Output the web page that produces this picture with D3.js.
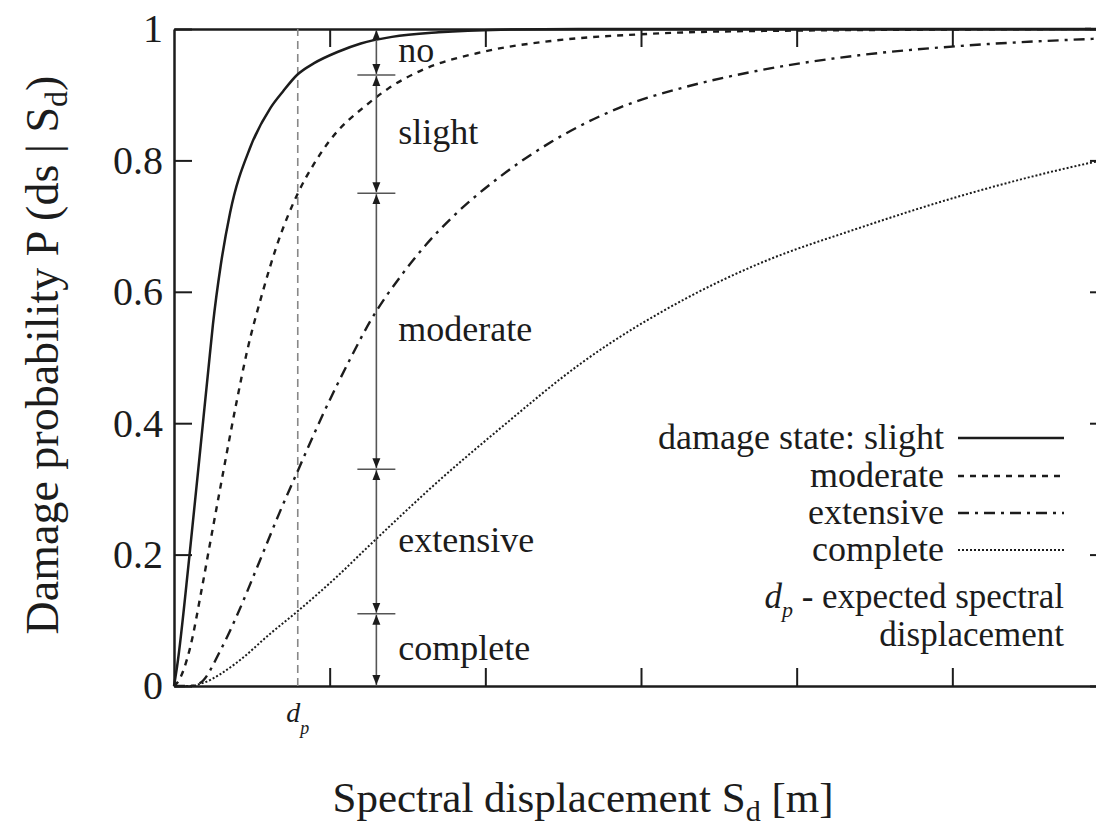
<!DOCTYPE html>
<html>
<head>
<meta charset="utf-8">
<script src="https://cdn.jsdelivr.net/npm/d3@7"></script>
</head>
<body style="margin:0">
<script>
// x in tick units of spectral displacement, y = damage probability
const slight = [[0,0],[0.02,0.03],[0.10,0.20],[0.19,0.41],[0.22,0.48],[0.25,0.55],[0.30,0.64],[0.36,0.72],[0.49,0.82],[0.62,0.88],[0.70,0.905],[0.79,0.93],[0.90,0.948],[1.05,0.965],[1.20,0.978],[1.40,0.988],[1.70,0.995],[2.1,0.999],[2.6,1],[6,1]];
const moderate = [[0,0],[0.03,0.008],[0.10,0.055],[0.18,0.15],[0.23,0.215],[0.30,0.305],[0.40,0.43],[0.47,0.51],[0.57,0.60],[0.66,0.67],[0.80,0.752],[0.90,0.795],[1.0,0.83],[1.24,0.885],[1.38,0.91],[1.58,0.936],[1.98,0.965],[2.43,0.982],[3.0,0.992],[3.75,0.997],[6,1]];
const extensive = [[0,0],[0.10,0],[0.17,0.005],[0.30,0.055],[0.40,0.105],[0.55,0.19],[0.68,0.265],[0.80,0.33],[0.96,0.415],[1.13,0.497],[1.26,0.555],[1.47,0.628],[1.62,0.672],[1.79,0.714],[2.11,0.778],[2.43,0.829],[2.86,0.880],[3.29,0.912],[3.74,0.936],[4.40,0.960],[5.04,0.974],[5.9,0.985],[6,0.986]];
const complete = [[0,0],[0.10,0],[0.19,0.005],[0.40,0.035],[0.62,0.08],[0.80,0.115],[1.04,0.165],[1.26,0.215],[1.47,0.262],[1.62,0.295],[2.11,0.395],[2.62,0.492],[3.29,0.59],[3.76,0.643],[4.40,0.697],[5.04,0.745],[5.9,0.797],[6,0.802]];

const dp = 0.795;             // expected spectral displacement
const arrowX = 1.30;          // where the damage-state bracket is drawn
const dpLevels = [0, 0.11, 0.33, 0.75, 0.93, 1];   // curve values at d_p
const stateNames = ["complete", "extensive", "moderate", "slight", "no"];

const xTicks = [1, 2, 3, 4, 5];
const yTicks = [0, 0.2, 0.4, 0.6, 0.8, 1];
const yTickLabels = ["0", "0.2", "0.4", "0.6", "0.8", "1"];

const legendNames = ["damage state: slight", "moderate", "extensive", "complete"];

const fontName = "Liberation Serif";

const margin = {top: 29, right: -12, bottom: 146, left: 174},
    width = 1096 - margin.left - margin.right,
    height = 832 - margin.top - margin.bottom;

const svg = d3.select("body")
    .append("svg")
    .attr("width", 1096)
    .attr("height", 832)
    .attr("font-family", fontName)
    .style("display", "block");

// every text goes through this so the serif face sits on the element itself
function txt(sel) {
    return sel.append("text")
        .attr("font-family", fontName)
        .attr("fill", "#1c1c1c");
}

const g = svg.append("g")
    .attr("transform", `translate(${margin.left},${margin.top})`);

const xScale = d3.scaleLinear().domain([0, 6]).range([0, width]);
const yScale = d3.scaleLinear().domain([0, 1]).range([height, 0]);

// axes, ticks pointing inward on all four sides
g.append("g")
    .attr("transform", `translate(0, ${height})`)
    .call(d3.axisBottom(xScale).tickValues(xTicks).tickSizeInner(-18).tickSizeOuter(0).tickFormat(""));
g.append("g")
    .call(d3.axisTop(xScale).tickValues(xTicks).tickSizeInner(-18).tickSizeOuter(0).tickFormat(""));
g.append("g")
    .attr("transform", `translate(${width}, 0)`)
    .call(d3.axisRight(yScale).tickValues(yTicks).tickSizeInner(-18).tickSizeOuter(0).tickFormat(""));
const yAxisGroup = g.append("g")
    .call(d3.axisLeft(yScale).tickValues(yTicks).tickSizeInner(-18).tickSizeOuter(0).tickPadding(11)
        .tickFormat((d, i) => yTickLabels[i]));

g.selectAll(".domain").attr("stroke", "#1c1c1c").attr("stroke-width", 2.5);
g.selectAll(".tick line").attr("stroke", "#1c1c1c").attr("stroke-width", 2);
g.selectAll("g").attr("font-family", fontName).attr("font-size", 40);
yAxisGroup.selectAll("text")
    .attr("font-family", fontName)
    .attr("font-size", 40)
    .attr("fill", "#1c1c1c");

// d_p marker line
g.append("line")
    .attr("x1", xScale(dp)).attr("x2", xScale(dp))
    .attr("y1", yScale(0)).attr("y2", yScale(1))
    .attr("stroke", "#888")
    .attr("stroke-width", 1.6)
    .attr("stroke-dasharray", "8,5");

// curves
const line = d3.line()
    .x(d => xScale(d[0]))
    .y(d => yScale(d[1]))
    .curve(d3.curveMonotoneX);

const series = [
    {data: slight, dash: null, w: 2.5},
    {data: moderate, dash: "6,6", w: 2.4},
    {data: extensive, dash: "11,6,3,6", w: 2.4},
    {data: complete, dash: "2,2", w: 2}
];

g.selectAll(".curve")
    .data(series)
    .join("path")
    .attr("class", "curve")
    .attr("fill", "none")
    .attr("stroke", "#1c1c1c")
    .attr("stroke-width", d => d.w)
    .attr("stroke-dasharray", d => d.dash)
    .attr("d", d => line(d.data));

// damage-state bracket with arrows
svg.append("defs").append("marker")
    .attr("id", "arr")
    .attr("viewBox", "0 0 10 10")
    .attr("refX", 10).attr("refY", 5)
    .attr("markerWidth", 10).attr("markerHeight", 10)
    .attr("markerUnits", "userSpaceOnUse")
    .attr("orient", "auto-start-reverse")
    .append("path")
    .attr("d", "M0,1 L10,5 L0,9 Z")
    .attr("fill", "#1c1c1c");

const ax = xScale(arrowX);
for (let i = 0; i < dpLevels.length - 1; i++) {
    g.append("line")
        .attr("x1", ax).attr("x2", ax)
        .attr("y1", yScale(dpLevels[i]) - 1).attr("y2", yScale(dpLevels[i + 1]) + 1)
        .attr("stroke", "#555")
        .attr("stroke-width", 1.6)
        .attr("marker-start", "url(#arr)")
        .attr("marker-end", "url(#arr)");

    txt(g)
        .attr("x", ax + 22)
        .attr("y", yScale((dpLevels[i] + dpLevels[i + 1]) / 2))
        .attr("dy", "0.28em")
        .attr("font-size", 36)
        .text(stateNames[i]);
}
g.selectAll(".bar")
    .data(dpLevels.slice(1, -1))
    .join("line")
    .attr("class", "bar")
    .attr("x1", ax - 19).attr("x2", ax + 19)
    .attr("y1", d => yScale(d)).attr("y2", d => yScale(d))
    .attr("stroke", "#555")
    .attr("stroke-width", 1.6);

// d_p label under the axis
const dpLabel = txt(g)
    .attr("x", xScale(dp))
    .attr("y", height + 36)
    .attr("text-anchor", "middle")
    .attr("font-size", 28)
    .attr("font-style", "italic");
dpLabel.append("tspan").text("d");
dpLabel.append("tspan").attr("dy", 12).attr("font-size", 18).text("p");

// legend
const legend = svg.append("g");
const legendY = [438, 476, 513, 550];
legendNames.forEach((name, i) => {
    txt(legend)
        .attr("x", 944)
        .attr("y", legendY[i])
        .attr("dy", "0.3em")
        .attr("text-anchor", "end")
        .attr("font-size", 36)
        .text(name);
});
legend.selectAll("line.lg")
    .data(series)
    .join("line")
    .attr("class", "lg")
    .attr("x1", 958).attr("x2", 1064)
    .attr("y1", (d, i) => legendY[i]).attr("y2", (d, i) => legendY[i])
    .attr("stroke", "#1c1c1c")
    .attr("stroke-width", d => d.w)
    .attr("stroke-dasharray", d => d.dash);

const dpNote = txt(legend)
    .attr("x", 1064).attr("y", 608)
    .attr("text-anchor", "end")
    .attr("font-size", 35);
dpNote.append("tspan").attr("font-style", "italic").text("d");
dpNote.append("tspan").attr("dy", 9).attr("font-size", 22).attr("font-style", "italic").text("p");
dpNote.append("tspan").attr("dy", -9).text(" - expected spectral");
txt(legend)
    .attr("x", 1064).attr("y", 646)
    .attr("text-anchor", "end")
    .attr("font-size", 35)
    .text("displacement");

// axis titles
const xTitle = txt(svg)
    .attr("x", 583)
    .attr("y", 812)
    .attr("text-anchor", "middle")
    .attr("font-size", 43);
xTitle.append("tspan").text("Spectral displacement S");
xTitle.append("tspan").attr("dy", 9).attr("font-size", 30).text("d");
xTitle.append("tspan").attr("dy", -9).text(" [m]");

const yTitle = txt(svg)
    .attr("transform", "translate(58, 355) rotate(-90)")
    .attr("text-anchor", "middle")
    .attr("font-size", 46);
yTitle.append("tspan").text("Damage probability P (ds | S");
yTitle.append("tspan").attr("dy", 9).attr("font-size", 32).text("d");
yTitle.append("tspan").attr("dy", -9).text(")");
</script>
</body>
</html>
